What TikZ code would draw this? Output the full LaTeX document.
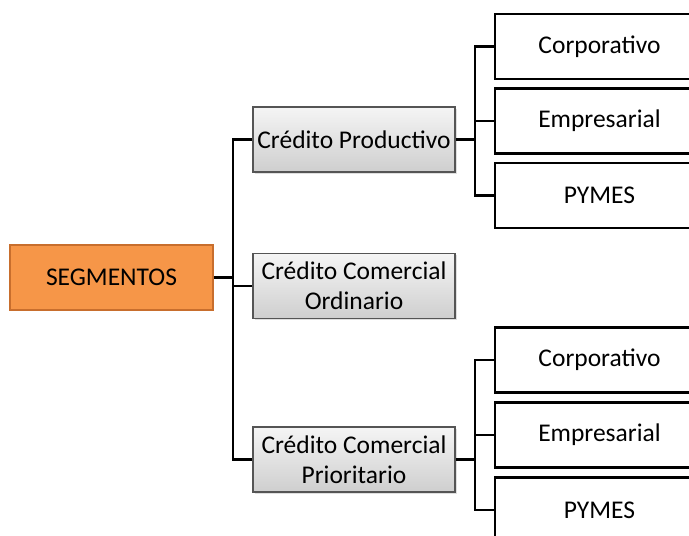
\documentclass[tikz,border=0pt]{standalone}
\usepackage{fontspec}
\setmainfont{Carlito}
\usetikzlibrary{shadows}
\definecolor{O}{RGB}{246, 150, 72}
\definecolor{OD}{RGB}{200, 110, 45}
\definecolor{GB}{RGB}{85, 85, 85}

\begin{document}
\begin{tikzpicture}[x=1pt, y=-1pt,
  txt/.style={font=\fontsize{25.5}{30}\selectfont, align=center, inner sep=0pt},
  segbox/.style={txt, draw=OD, line width=1.5pt, fill=O, minimum width=203pt, minimum height=65pt},
  grisbox/.style={txt, draw=GB, line width=1.5pt, top color=gray!8, bottom color=gray!38,
    minimum width=202pt, minimum height=65pt,
    drop shadow={opacity=0.25, shadow xshift=1.5pt, shadow yshift=-1.5pt}},
  blancobox/.style={txt, draw=black, line width=2.5pt, fill=white, minimum width=209pt, minimum height=65pt},
  enlace/.style={black, line width=2.2pt}]
  \clip (0,0) rectangle (689,536);
  % niveles
  \node[segbox] (seg) at (111.5,277.5) {SEGMENTOS};
  \node[grisbox] (prod) at (354,139.5) {Crédito Productivo};
  \node[grisbox] (ord) at (354,286) {Crédito Comercial\\Ordinario};
  \node[grisbox] (prio) at (354,459.5) {Crédito Comercial\\Prioritario};
  % subsegmentos
  \node[blancobox] (corp1) at (599.5,46.5) {Corporativo};
  \node[blancobox] (emp1) at (599.5,121) {Empresarial};
  \node[blancobox] (pym1) at (599.5,195.5) {PYMES};
  \node[blancobox] (corp2) at (599.5,360) {Corporativo};
  \node[blancobox] (emp2) at (599.5,435) {Empresarial};
  \node[blancobox] (pym2) at (599.5,510) {PYMES};
  % conectores
  \coordinate (tr) at (233,277.5);
  \draw[enlace] (seg.east) -- (tr);
  \draw[enlace] (tr) |- (prod.west);
  \draw[enlace] (tr) |- (ord.west);
  \draw[enlace] (tr) |- (prio.west);
  \coordinate (r1) at (475,139.5);
  \draw[enlace] (prod.east) -- (r1);
  \draw[enlace] (r1) |- (corp1.west);
  \draw[enlace] (r1) |- (emp1.west);
  \draw[enlace] (r1) |- (pym1.west);
  \coordinate (r2) at (475,459.5);
  \draw[enlace] (prio.east) -- (r2);
  \draw[enlace] (r2) |- (corp2.west);
  \draw[enlace] (r2) |- (emp2.west);
  \draw[enlace] (r2) |- (pym2.west);
\end{tikzpicture}
\end{document}
